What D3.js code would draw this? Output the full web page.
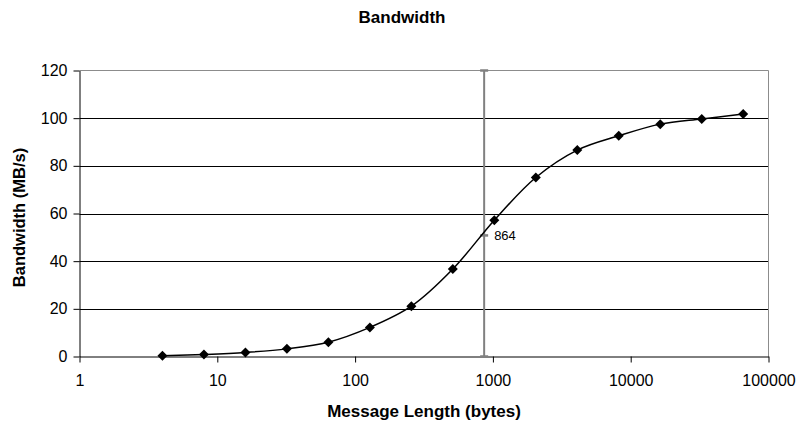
<!DOCTYPE html>
<html>
<head>
<meta charset="utf-8">
<script src="https://cdn.jsdelivr.net/npm/d3@7"></script>
<style>
  html, body { margin: 0; padding: 0; background: #fff; }
  svg { display: block; font-family: "Liberation Sans", Arial, sans-serif; }
</style>
</head>
<body>
<svg id="chart" width="801" height="423"></svg>
<script>
// ---- data ----
const messageLengths = [4, 8, 16, 32, 64, 128, 256, 512, 1024, 2048, 4096, 8192, 16384, 32768, 65536];
const bandwidths = [0.3, 0.85, 1.7, 3.2, 6.0, 12.2, 21.1, 36.7, 57.2, 75.1, 86.6, 92.6, 97.5, 99.7, 101.7];
const xTickValues = [1, 10, 100, 1000, 10000, 100000];
const yTickValues = [0, 20, 40, 60, 80, 100, 120];
const markerX = 864;
const markerY = 50.8;
const markerLabel = "864";
const titleText = "Bandwidth";
const xTitle = "Message Length (bytes)";
const yTitle = "Bandwidth (MB/s)";

// ---- layout ----
const svg = d3.select("#chart");
const pLeft = 79.5, pRight = 768.5, pTop = 70.5, pBottom = 356.5;

const x = d3.scaleLog().domain([1, 100000]).range([pLeft, pRight]);
const y = d3.scaleLinear().domain([0, 120]).range([pBottom, pTop]);

// gridlines
svg.append("g")
  .selectAll("line")
  .data(yTickValues.filter(v => v > 0 && v < 120))
  .join("line")
  .attr("x1", pLeft).attr("x2", pRight)
  .attr("y1", d => Math.round(y(d)) + 0.5).attr("y2", d => Math.round(y(d)) + 0.5)
  .attr("stroke", "#000").attr("stroke-width", 1);

// frame top & right (gray)
svg.append("line").attr("x1", pLeft).attr("x2", pRight).attr("y1", pTop).attr("y2", pTop)
  .attr("stroke", "#8c8c8c").attr("stroke-width", 1);
svg.append("line").attr("x1", pRight).attr("x2", pRight).attr("y1", pTop).attr("y2", pBottom)
  .attr("stroke", "#8c8c8c").attr("stroke-width", 1);

// axes
const xAxis = d3.axisBottom(x).tickValues(xTickValues).tickFormat(d3.format("d"))
  .tickSizeInner(6).tickSizeOuter(0).tickPadding(12);
const gx = svg.append("g").attr("transform", `translate(0,${pBottom})`).call(xAxis);
gx.select(".domain").attr("stroke", "#000");
gx.selectAll(".tick line").attr("stroke", "#000");
gx.selectAll(".tick text").attr("font-size", 16).attr("fill", "#000")
  .attr("font-family", "Liberation Sans, Arial, sans-serif");

const yAxis = d3.axisLeft(y).tickValues(yTickValues).tickFormat(d3.format("d"))
  .tickSizeInner(6).tickSizeOuter(0).tickPadding(6);
const gy = svg.append("g").attr("transform", `translate(${pLeft},0)`).call(yAxis);
gy.select(".domain").attr("stroke", "#000");
gy.selectAll(".tick line").attr("stroke", "#000");
gy.selectAll(".tick text").attr("font-size", 16).attr("fill", "#000")
  .attr("font-family", "Liberation Sans, Arial, sans-serif");

// vertical marker line at 864
const mx = x(markerX);
const capW = 4;
const gm = svg.append("g").attr("stroke", "#808080").attr("stroke-width", 2);
gm.append("line").attr("x1", mx).attr("x2", mx).attr("y1", y(120)).attr("y2", y(0));
[120, markerY, 0].forEach(v => {
  gm.append("line").attr("x1", mx - capW).attr("x2", mx + capW)
    .attr("y1", y(v)).attr("y2", y(v)).attr("stroke-width", 2.5);
});
svg.append("text").attr("x", mx + 10).attr("y", y(markerY)).attr("dy", "0.35em")
  .attr("font-size", 13).attr("fill", "#000").text(markerLabel);

// series line
const pts = messageLengths.map((d, i) => [x(d), y(bandwidths[i])]);
svg.append("path")
  .attr("d", d3.line().curve(d3.curveCatmullRom.alpha(0.5))(pts))
  .attr("fill", "none").attr("stroke", "#000").attr("stroke-width", 1.5);

// diamond markers
svg.append("g").selectAll("path")
  .data(pts)
  .join("path")
  .attr("transform", d => `translate(${d[0]},${d[1]})`)
  .attr("d", "M0,-5L5,0L0,5L-5,0Z")
  .attr("fill", "#000");

// titles
svg.append("text").attr("x", 402).attr("y", 23).attr("text-anchor", "middle")
  .attr("font-size", 17).attr("font-weight", "bold").text(titleText);
svg.append("text").attr("x", 424).attr("y", 417).attr("text-anchor", "middle")
  .attr("font-size", 17).attr("font-weight", "bold").text(xTitle);
svg.append("text").attr("transform", `translate(25,${(pTop + pBottom) / 2 + 4}) rotate(-90)`)
  .attr("text-anchor", "middle")
  .attr("font-size", 16.5).attr("font-weight", "bold").text(yTitle);
</script>
</body>
</html>
